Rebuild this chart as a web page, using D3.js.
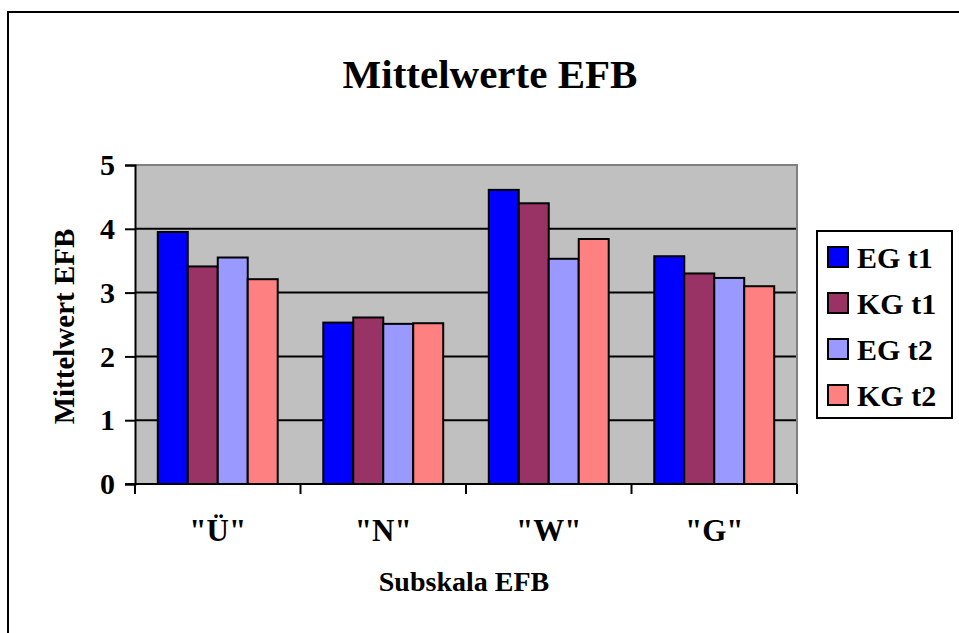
<!DOCTYPE html>
<html>
<head>
<meta charset="utf-8">
<script src="https://cdn.jsdelivr.net/npm/d3@7"></script>
<style>
  html, body { margin: 0; padding: 0; background: #fff; }
  svg { display: block; }
  text { font-family: "Liberation Serif", "Times New Roman", serif; font-weight: bold; fill: #000; }
</style>
</head>
<body>
<svg id="chart" width="959" height="633"></svg>
<script>
// Subscales of the EFB questionnaire
const categories = ['"Ü"', '"N"', '"W"', '"G"'];
// Groups / measurement points
const series = ["EG t1", "KG t1", "EG t2", "KG t2"];
const colors = ["#0000FF", "#993366", "#9999FF", "#FF8080"];
// Mean values per series, in category order
const egT1 = [3.95, 2.53, 4.61, 3.57];
const kgT1 = [3.41, 2.61, 4.40, 3.30];
const egT2 = [3.55, 2.51, 3.53, 3.23];
const kgT2 = [3.21, 2.52, 3.84, 3.10];
const yTicks = [0, 1, 2, 3, 4, 5];

const values = [egT1, kgT1, egT2, kgT2];
const rows = categories.map((c, i) => ({
  cat: c,
  vals: series.map((s, j) => ({ key: s, value: values[j][i], color: colors[j] }))
}));

const svg = d3.select("#chart");

// outer chart frame
svg.append("rect")
  .attr("x", 8).attr("y", 12)
  .attr("width", 980).attr("height", 660)
  .attr("fill", "#fff").attr("stroke", "#000").attr("stroke-width", 2);

const plot = { left: 135, right: 797, top: 165, bottom: 484 };

const x0 = d3.scaleBand().domain(categories).range([plot.left, plot.right]).padding(0);
const x1 = d3.scaleBand().domain(series).range([0, x0.bandwidth()])
  .paddingInner(0).paddingOuter(0.76);
const y = d3.scaleLinear().domain([0, 5]).range([plot.bottom, plot.top]);

// plot background
svg.append("rect")
  .attr("x", plot.left).attr("y", plot.top)
  .attr("width", plot.right - plot.left).attr("height", plot.bottom - plot.top)
  .attr("fill", "#C0C0C0");

// horizontal gridlines
svg.append("g").selectAll("line")
  .data(yTicks.filter(t => t > 0 && t < 5))
  .join("line")
  .attr("x1", plot.left).attr("x2", plot.right)
  .attr("y1", d => y(d)).attr("y2", d => y(d))
  .attr("stroke", "#000").attr("stroke-width", 2);

// top and right edge of plot area
svg.append("path")
  .attr("d", `M${plot.left},${plot.top}H${plot.right}V${plot.bottom}`)
  .attr("fill", "none").attr("stroke", "#808080").attr("stroke-width", 2);

// bars
svg.append("g").selectAll("g")
  .data(rows)
  .join("g")
  .attr("transform", d => `translate(${x0(d.cat)},0)`)
  .selectAll("rect")
  .data(d => d.vals)
  .join("rect")
  .attr("x", d => x1(d.key))
  .attr("y", d => y(d.value))
  .attr("width", x1.bandwidth())
  .attr("height", d => y(0) - y(d.value))
  .attr("fill", d => d.color)
  .attr("stroke", "#000").attr("stroke-width", 2);

// y axis
const yAxis = svg.append("g")
  .attr("transform", `translate(${plot.left},0)`)
  .call(d3.axisLeft(y).tickValues(yTicks).tickFormat(d3.format("d")).tickSize(10).tickPadding(10));
yAxis.select(".domain").attr("stroke", "#000").attr("stroke-width", 2);
yAxis.selectAll(".tick line").attr("stroke", "#000").attr("stroke-width", 2);
yAxis.selectAll(".tick text")
  .style("font-family", '"Liberation Serif", serif')
  .style("font-weight", "bold").style("font-size", "30px").attr("fill", "#000");

// x axis with ticks at category boundaries
const xAxis = svg.append("g")
  .attr("transform", `translate(0,${plot.bottom})`);
xAxis.append("line")
  .attr("x1", plot.left - 10).attr("x2", plot.right)
  .attr("stroke", "#000").attr("stroke-width", 2);
const bounds = categories.map(c => x0(c)).concat([x0(categories[categories.length - 1]) + x0.bandwidth()]);
xAxis.selectAll("line.tick")
  .data(bounds)
  .join("line")
  .attr("class", "tick")
  .attr("x1", d => d).attr("x2", d => d)
  .attr("y1", 0).attr("y2", 10)
  .attr("stroke", "#000").attr("stroke-width", 2);
xAxis.selectAll("text")
  .data(categories)
  .join("text")
  .attr("x", d => x0(d) + x0.bandwidth() / 2)
  .attr("y", 57)
  .attr("text-anchor", "middle")
  .style("font-size", "31px")
  .text(d => d);

// titles
svg.append("text")
  .attr("x", 490).attr("y", 88)
  .attr("text-anchor", "middle")
  .style("font-size", "41px")
  .text("Mittelwerte EFB");

svg.append("text")
  .attr("x", 464).attr("y", 591)
  .attr("text-anchor", "middle")
  .style("font-size", "28px")
  .text("Subskala EFB");

svg.append("text")
  .attr("transform", `translate(74,${(plot.top + plot.bottom) / 2 + 2}) rotate(-90)`)
  .attr("text-anchor", "middle")
  .style("font-size", "29px")
  .text("Mittelwert EFB");

// legend
const legend = svg.append("g");
legend.append("rect")
  .attr("x", 817).attr("y", 231)
  .attr("width", 135).attr("height", 187)
  .attr("fill", "#fff").attr("stroke", "#000").attr("stroke-width", 2);
const items = legend.selectAll("g.item")
  .data(series)
  .join("g")
  .attr("class", "item")
  .attr("transform", (d, i) => `translate(828,${257 + i * 46})`);
items.append("rect")
  .attr("x", 0).attr("y", -10)
  .attr("width", 20).attr("height", 20)
  .attr("fill", (d, i) => colors[i])
  .attr("stroke", "#000").attr("stroke-width", 2);
items.append("text")
  .attr("x", 29).attr("y", 11)
  .style("font-size", "30px")
  .text(d => d);
</script>
</body>
</html>
